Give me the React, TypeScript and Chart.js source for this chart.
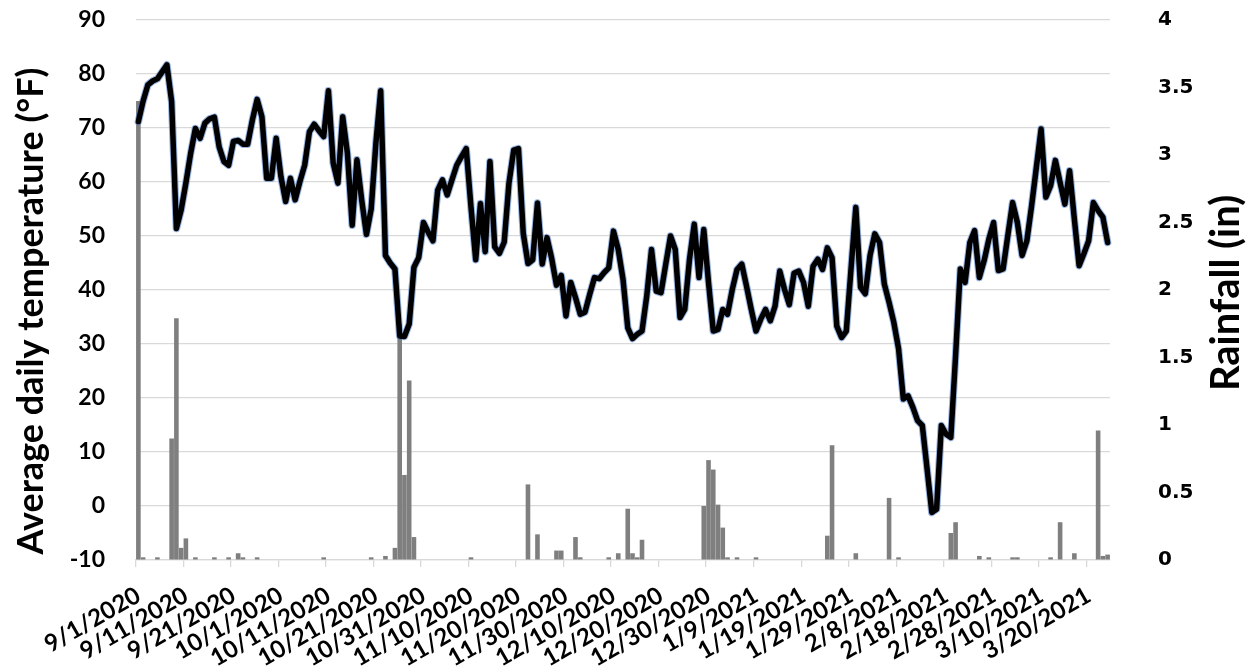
import React, { useEffect, useRef } from "react";
import { Chart, registerables } from "chart.js";

Chart.register(...registerables);

// Daily series, 9/1/2020 .. 3/24/2021
const startDate = { year: 2020, month: 9, day: 1 };

const temperatureF = [
  71.2, 75.0, 78.0, 78.7, 79.1, 80.4, 81.7, 74.9, 51.4, 54.8,
  59.8, 65.3, 69.9, 68.1, 70.9, 71.7, 72.0, 66.5, 63.8, 63.1,
  67.5, 67.7, 67.0, 67.0, 71.5, 75.3, 72.1, 60.7, 60.7, 68.1,
  61.0, 56.4, 60.7, 56.7, 60.1, 63.1, 69.3, 70.7, 69.5, 68.4,
  76.9, 63.5, 59.8, 72.1, 65.3, 52.0, 64.1, 56.7, 50.3, 55.0,
  67.3, 76.9, 46.4, 45.0, 43.9, 31.5, 31.4, 33.7, 44.2, 46.0,
  52.5, 50.7, 49.1, 58.5, 60.4, 57.6, 60.4, 63.1, 64.7, 66.2,
  55.4, 45.6, 56.0, 47.1, 63.8, 48.0, 46.8, 48.9, 59.8, 65.9,
  66.2, 50.5, 44.9, 45.6, 56.1, 44.8, 49.7, 45.8, 40.9, 42.7,
  35.2, 41.4, 38.6, 35.5, 35.9, 39.2, 42.3, 42.1, 43.2, 44.1,
  50.9, 47.5, 42.0, 33.0, 31.0, 31.8, 32.4, 38.9, 47.5, 39.8,
  39.5, 44.8, 50.0, 47.5, 34.9, 36.4, 45.7, 52.2, 42.3, 51.2,
  41.4, 32.4, 32.7, 36.4, 35.5, 40.1, 43.8, 44.8, 40.7, 36.4,
  32.4, 34.6, 36.4, 34.3, 37.0, 43.5, 40.1, 37.3, 43.1, 43.5,
  41.4, 37.0, 44.4, 45.7, 43.8, 47.8, 46.0, 33.3, 31.2, 32.4,
  44.0, 55.3, 40.5, 39.3, 46.4, 50.4, 48.8, 41.1, 37.7, 34.0,
  29.1, 19.8, 20.4, 18.3, 15.8, 14.9, 6.9, -1.2, -0.6, 14.9,
  13.3, 12.7, 27.8, 43.9, 41.4, 48.8, 51.0, 42.3, 45.4, 49.4,
  52.5, 43.6, 43.9, 50.1, 56.2, 52.5, 46.4, 49.1, 55.6, 62.7,
  69.8, 57.2, 59.3, 64.0, 59.9, 55.9, 62.1, 53.1, 44.5, 46.7,
  49.1, 56.2, 54.7, 53.5, 48.8,
];

const rainfallIn = [
  3.40, 0.02, 0, 0, 0.02, 0, 0, 0.90, 1.79, 0.09,
  0.16, 0, 0.02, 0, 0, 0, 0.02, 0, 0, 0.02,
  0, 0.05, 0.02, 0, 0, 0.02, 0, 0, 0, 0,
  0, 0, 0, 0, 0, 0, 0, 0, 0, 0.02,
  0, 0, 0, 0, 0, 0, 0, 0, 0, 0.02,
  0, 0, 0.03, 0, 0.09, 1.75, 0.63, 1.33, 0.17, 0,
  0, 0, 0, 0, 0, 0, 0, 0, 0, 0,
  0.02, 0, 0, 0, 0, 0, 0, 0, 0, 0,
  0, 0, 0.56, 0, 0.19, 0, 0, 0, 0.07, 0.07,
  0, 0, 0.17, 0.02, 0, 0, 0, 0, 0, 0.02,
  0, 0.05, 0, 0.38, 0.05, 0.02, 0.15, 0, 0, 0,
  0, 0, 0, 0, 0, 0, 0, 0, 0, 0.40,
  0.74, 0.67, 0.41, 0.24, 0.02, 0, 0.02, 0, 0, 0,
  0.02, 0, 0, 0, 0, 0, 0, 0, 0, 0,
  0, 0, 0, 0, 0, 0.18, 0.85, 0, 0, 0,
  0, 0.05, 0, 0, 0, 0, 0, 0, 0.46, 0,
  0.02, 0, 0, 0, 0, 0, 0, 0, 0, 0,
  0, 0.20, 0.28, 0, 0, 0, 0, 0.03, 0, 0.02,
  0, 0, 0, 0, 0.02, 0.02, 0, 0, 0, 0,
  0, 0, 0.02, 0, 0.28, 0, 0, 0.05, 0, 0,
  0, 0, 0.96, 0.03, 0.04,
];

const tickLabelEvery = 10;
const leftTitle = "Average daily temperature (\u00B0F)";
const rightTitle = "Rainfall (in)";

function buildDateLabels(n: number): string[] {
  const out: string[] = [];
  const d = new Date(startDate.year, startDate.month - 1, startDate.day);
  for (let i = 0; i < n; i++) {
    out.push(`${d.getMonth() + 1}/${d.getDate()}/${d.getFullYear()}`);
    d.setDate(d.getDate() + 1);
  }
  return out;
}

const W = 1251;
const H = 670;
const AREA = { left: 136, right: 1110, top: 20, bottom: 560 };

export default function App() {
  const ref = useRef<HTMLCanvasElement | null>(null);

  useEffect(() => {
    if (!ref.current) return;
    const labels = buildDateLabels(temperatureF.length);

    const titlesPlugin = {
      id: "axisTitles",
      afterDraw(chart: any) {
        const ctx = chart.ctx;
        ctx.save();
        ctx.fillStyle = "#000";
        ctx.textAlign = "center";
        ctx.textBaseline = "middle";
        ctx.font = "bold 36px Lato";
        ctx.translate(31, 311);
        ctx.rotate(-Math.PI / 2);
        ctx.fillText(leftTitle, 0, 0);
        ctx.restore();

        ctx.save();
        ctx.fillStyle = "#000";
        ctx.textAlign = "center";
        ctx.textBaseline = "middle";
        ctx.font = "bold 40px Lato";
        ctx.translate(1226, 293);
        ctx.rotate(-Math.PI / 2);
        ctx.fillText(rightTitle, 0, 0);
        ctx.restore();
      },
    };

    const chart = new Chart(ref.current, {
      type: "bar",
      data: {
        labels,
        datasets: [
          {
            type: "line",
            label: "Temperature",
            data: temperatureF,
            yAxisID: "y",
            borderColor: "#000000",
            borderWidth: 5.5,
            pointRadius: 0,
            tension: 0,
            borderJoinStyle: "round",
            borderCapStyle: "round",
            order: 0,
          } as any,
          {
            type: "line",
            label: "glow",
            data: temperatureF,
            yAxisID: "y",
            borderColor: "rgba(70,120,200,0.55)",
            borderWidth: 7.5,
            pointRadius: 0,
            tension: 0,
            borderJoinStyle: "round",
            borderCapStyle: "round",
            order: 1,
          } as any,
          {
            type: "bar",
            label: "Rainfall",
            data: rainfallIn,
            yAxisID: "y1",
            backgroundColor: "#7f7f7f",
            borderWidth: 0,
            barPercentage: 0.97,
            categoryPercentage: 1,
            order: 2,
          },
        ],
      },
      options: {
        responsive: false,
        animation: false,
        devicePixelRatio: 1,
        layout: { padding: { left: 0, right: 0, top: AREA.top, bottom: 0 } },
        plugins: {
          legend: { display: false },
          tooltip: { enabled: false },
        },
        scales: {
          x: {
            type: "category",
            offset: true,
            grid: {
              offset: true,
              drawOnChartArea: false,
              drawTicks: true,
              tickLength: 7,
              lineWidth: 1.3,
              color: (c: any) =>
                c.index % tickLabelEvery === 0 ? "#d9d9d9" : "rgba(0,0,0,0)",
            },
            border: { display: true, color: "#d9d9d9", width: 1.3 },
            ticks: {
              autoSkip: false,
              minRotation: 30,
              maxRotation: 30,
              padding: 14,
              color: "#000",
              font: { family: "Lato", weight: "bold", size: 24 },
              callback: (_v: any, i: number) =>
                i % tickLabelEvery === 0 ? labels[i] : "",
            },
            afterFit: (s: any) => {
              s.height = H - AREA.bottom;
            },
          },
          y: {
            position: "left",
            min: -10,
            max: 90,
            ticks: {
              stepSize: 10,
              padding: 0,
              color: "#000",
              font: { family: "Lato", weight: "bold", size: 23 },
            },
            grid: {
              color: "#d9d9d9",
              lineWidth: 1.3,
              drawTicks: true,
              tickLength: 31,
              tickColor: "rgba(0,0,0,0)",
            },
            border: { display: false },
            afterFit: (s: any) => {
              s.width = AREA.left;
            },
          },
          y1: {
            position: "right",
            min: 0,
            max: 4,
            ticks: {
              stepSize: 0.5,
              padding: 0,
              color: "#000",
              font: { family: "DejaVu Sans", weight: "bold", size: 20 },
              callback: (v: any) => String(v),
            },
            grid: {
              drawOnChartArea: false,
              drawTicks: true,
              tickLength: 48,
              tickColor: "rgba(0,0,0,0)",
            },
            border: { display: false },
            afterFit: (s: any) => {
              s.width = W - AREA.right;
            },
          },
        },
      } as any,
      plugins: [titlesPlugin],
    });

    return () => chart.destroy();
  }, []);

  return (
    <div style={{ position: "fixed", left: 0, top: 0, width: W, height: H, background: "#fff" }}>
      <canvas ref={ref} width={W} height={H} style={{ width: W, height: H, display: "block" }} />
    </div>
  );
}
